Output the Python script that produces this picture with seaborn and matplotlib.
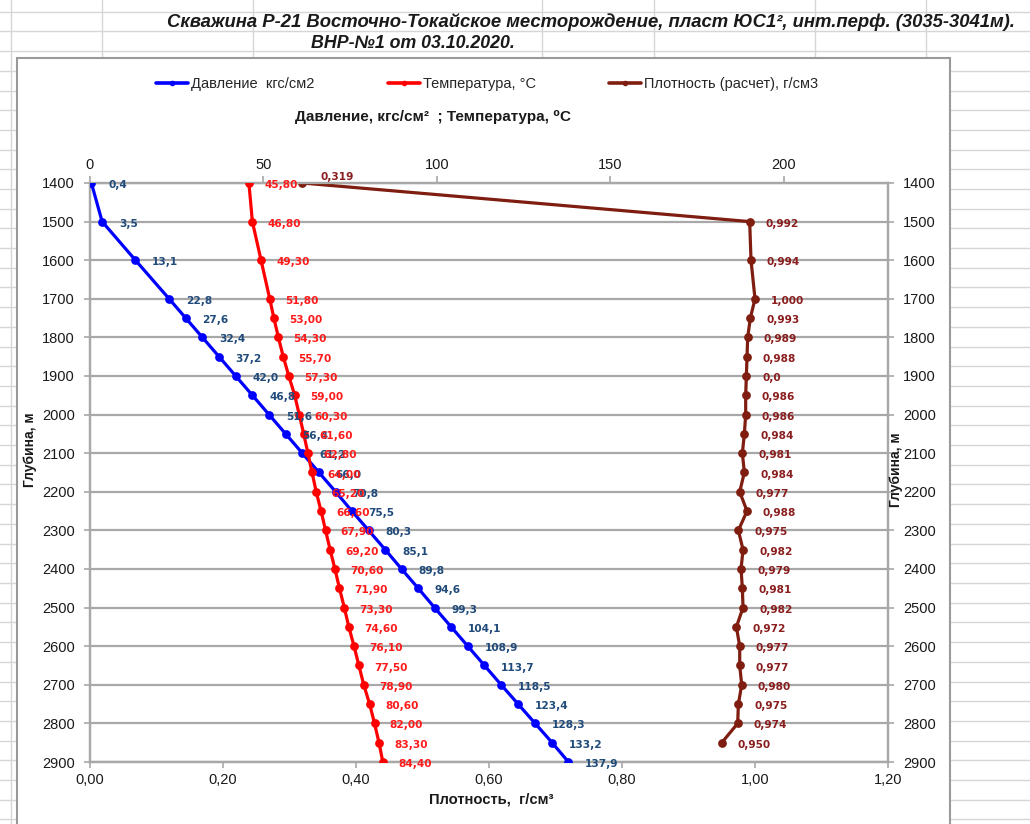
import matplotlib
matplotlib.use("Agg")
import matplotlib.pyplot as plt
from matplotlib.lines import Line2D
from matplotlib.patches import Rectangle
from matplotlib.ticker import FuncFormatter, FixedLocator
import seaborn as sns

# ---- survey data ----
depth = [1400, 1500, 1600, 1700, 1750, 1800, 1850, 1900, 1950, 2000, 2050, 2100,
         2150, 2200, 2250, 2300, 2350, 2400, 2450, 2500, 2550, 2600, 2650, 2700,
         2750, 2800, 2850, 2900]
pressure = [0.4, 3.5, 13.1, 22.8, 27.6, 32.4, 37.2, 42.0, 46.8, 51.6, 56.4, 61.2,
            66.0, 70.8, 75.5, 80.3, 85.1, 89.8, 94.6, 99.3, 104.1, 108.9, 113.7,
            118.5, 123.4, 128.3, 133.2, 137.9]
temperature = [45.8, 46.8, 49.3, 51.8, 53.0, 54.3, 55.7, 57.3, 59.0, 60.3, 61.6,
               62.8, 64.0, 65.2, 66.6, 67.9, 69.2, 70.6, 71.9, 73.3, 74.6, 76.1,
               77.5, 78.9, 80.6, 82.0, 83.3, 84.4]
density_depth = depth[:-1]
density = [0.319, 0.992, 0.994, 1.000, 0.993, 0.989, 0.988, 0.987, 0.986, 0.986,
           0.984, 0.981, 0.984, 0.977, 0.988, 0.975, 0.982, 0.979, 0.981, 0.982,
           0.972, 0.977, 0.977, 0.980, 0.975, 0.974, 0.950]
density_labels = ["0,319", "0,992", "0,994", "1,000", "0,993", "0,989", "0,988",
                  "0,0", "0,986", "0,986", "0,984", "0,981", "0,984", "0,977",
                  "0,988", "0,975", "0,982", "0,979", "0,981", "0,982", "0,972",
                  "0,977", "0,977", "0,980", "0,975", "0,974", "0,950"]

depth_ticks = list(range(1400, 3000, 100))
top_ticks = [0, 50, 100, 150, 200]
bottom_ticks = [0.0, 0.2, 0.4, 0.6, 0.8, 1.0, 1.2]

title_1 = "Скважина Р-21 Восточно-Токайское месторождение, пласт ЮС1², инт.перф. (3035-3041м)."
title_2 = "ВНР-№1 от 03.10.2020."
series_names = ["Давление  кгс/см2", "Температура, °С", "Плотность (расчет), г/см3"]

C_P, C_T, C_D = "#0000ff", "#ff0000", "#7f1d10"
C_PL, C_TL, C_DL = "#1f4a7a", "#ff1a1a", "#8a1e1e"
GRID = "#a8a8a8"
INK = "#1a1a1a"

sns.set_theme(style="white")
plt.rcParams["font.family"] = ["Liberation Sans", "DejaVu Sans"]

W, H = 1030, 824
fig = plt.figure(figsize=(W / 100, H / 100), dpi=100)
fig.patch.set_facecolor("white")


def fx(px):
    return px / W


def fy(py):
    return 1 - py / H


# spreadsheet cell lines behind the chart object
CELL = "#d6d6d6"
y = 11.7
while y < H:
    fig.add_artist(Line2D([0, 1], [fy(y), fy(y)], color=CELL, lw=1, zorder=-5))
    y += 19.7
for xv in [102, 253, 542, 654, 815, 926]:
    fig.add_artist(Line2D([fx(xv), fx(xv)], [fy(0), fy(58)], color=CELL, lw=1, zorder=-5))
fig.add_artist(Line2D([fx(11), fx(11)], [0, 1], color=CELL, lw=1, zorder=-5))

# chart object frame
fig.add_artist(Rectangle((fx(17), fy(830)), fx(950) - fx(17), fy(58) - fy(830),
                         facecolor="white", edgecolor="#9a9a9a", lw=1.5, zorder=-4))

fig.text(fx(1015), fy(22), title_1, ha="right", va="center", fontsize=13.3,
         fontweight="bold", fontstyle="italic", color=INK)
fig.text(fx(413), fy(43), title_2, ha="center", va="center", fontsize=12.8,
         fontweight="bold", fontstyle="italic", color=INK)

ax = fig.add_axes([fx(90), fy(762), fx(888) - fx(90), fy(183) - fy(762)])
ax.set_facecolor("none")
ax2 = ax.twiny()

line_kw = dict(orient="y", sort=False, estimator=None, lw=2.3, marker="o",
               markersize=6.3, markeredgewidth=0, zorder=3)
# density on the bottom axis
sns.lineplot(x=density, y=density_depth, ax=ax, color=C_D, **line_kw)
# pressure and temperature on the top axis
sns.lineplot(x=pressure, y=depth, ax=ax2, color=C_P, **line_kw)
sns.lineplot(x=temperature, y=depth, ax=ax2, color=C_T, **line_kw)

lab_kw = dict(fontsize=7.6, fontweight="bold", family="DejaVu Sans",
              textcoords="offset points", va="center", ha="left", zorder=4)
for xv, yv in zip(pressure, depth):
    ax2.annotate(f"{xv:.1f}".replace(".", ","), (xv, yv), xytext=(12, -1.5),
                 color=C_PL, **lab_kw)
for xv, yv in zip(temperature, depth):
    ax2.annotate(f"{xv:.2f}".replace(".", ","), (xv, yv), xytext=(11, -1.5),
                 color=C_TL, **lab_kw)
for i, (xv, yv, t) in enumerate(zip(density, density_depth, density_labels)):
    off = (13, 4) if i == 0 else (11.5, -1.5)
    ax.annotate(t, (xv, yv), xytext=off, color=C_DL, **lab_kw)

ax.set_ylim(2900, 1400)
ax.set_xlim(0, 1.2)
ax2.set_xlim(0, 230)

ax.yaxis.set_major_locator(FixedLocator(depth_ticks))
ax.xaxis.set_major_locator(FixedLocator(bottom_ticks))
ax.xaxis.set_major_formatter(FuncFormatter(lambda v, p: f"{v:.2f}".replace(".", ",")))
ax2.xaxis.set_major_locator(FixedLocator(top_ticks))
ax2.xaxis.set_major_formatter(FuncFormatter(lambda v, p: f"{v:.0f}"))

ax.yaxis.grid(True, color=GRID, lw=1.6)
ax.xaxis.grid(False)
ax2.grid(False)
ax.set_axisbelow(True)

for a in (ax, ax2):
    for s in a.spines.values():
        s.set_color(GRID)
        s.set_linewidth(1.6)

ax.tick_params(axis="y", direction="out", length=4, width=1.2, color=GRID,
               left=True, right=True, labelleft=True, labelright=True,
               labelsize=10.5, labelcolor=INK, pad=7)
ax.tick_params(axis="x", direction="out", length=4, width=1.2, color=GRID,
               labelsize=10.5, labelcolor=INK, pad=4, top=False, bottom=True)
ax2.tick_params(axis="x", direction="out", length=5, width=1.2, color=GRID,
                labelsize=10.5, labelcolor=INK, pad=3, top=True, bottom=False)
ax.set_ylabel("")
ax.set_xlabel("")
ax2.set_xlabel("")

fig.text(fx(30), fy(450), "Глубина, м", rotation=90, ha="center", va="center",
         fontsize=10, fontweight="bold", color=INK)
fig.text(fx(896), fy(470), "Глубина, м", rotation=90, ha="center", va="center",
         fontsize=10, fontweight="bold", color=INK)
fig.text(fx(491), fy(800), "Плотность,  г/см³", ha="center", va="center",
         fontsize=10.6, fontweight="bold", color=INK)
fig.text(fx(433), fy(117), "Давление, кгс/см²  ; Температура, ⁰С", ha="center",
         va="center", fontsize=11, fontweight="bold", color=INK)

handles = [Line2D([], [], color=c, lw=2.6, marker="o", markersize=4, markeredgewidth=0)
           for c in (C_P, C_T, C_D)]
fig.legend(handles, series_names, loc="center", bbox_to_anchor=(fx(487), fy(84)),
           ncol=3, frameon=False, fontsize=10.5, handlelength=2.2,
           handletextpad=0.2, columnspacing=5.0)

fig.savefig("out.png", dpi=100)
